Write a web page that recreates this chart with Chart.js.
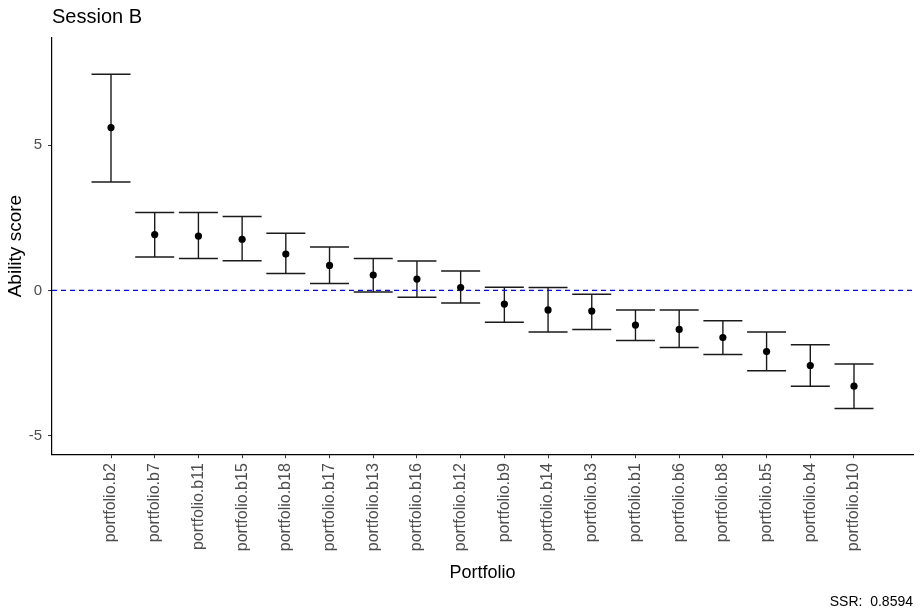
<!DOCTYPE html>
<html>
<head>
<meta charset="utf-8">
<script src="https://cdn.jsdelivr.net/npm/chart.js@4/dist/chart.umd.min.js"></script>
<style>
  html,body{margin:0;padding:0;background:#fff;}
  #wrap{width:922px;height:614px;}
</style>
</head>
<body>
<div id="wrap"><canvas id="c" width="922" height="614"></canvas></div>
<script>
// data
const portfolios = ['portfolio.b2','portfolio.b7','portfolio.b11','portfolio.b15','portfolio.b18','portfolio.b17','portfolio.b13','portfolio.b16','portfolio.b12','portfolio.b9','portfolio.b14','portfolio.b3','portfolio.b1','portfolio.b6','portfolio.b8','portfolio.b5','portfolio.b4','portfolio.b10'];
const ability = [5.60,1.92,1.87,1.76,1.25,0.86,0.53,0.39,0.10,-0.47,-0.67,-0.71,-1.19,-1.34,-1.62,-2.10,-2.58,-3.29];
const upperCI = [7.43,2.68,2.68,2.54,1.97,1.49,1.10,1.01,0.67,0.11,0.10,-0.13,-0.67,-0.67,-1.04,-1.43,-1.87,-2.53];
const lowerCI = [3.73,1.15,1.10,1.02,0.58,0.24,-0.05,-0.23,-0.43,-1.09,-1.43,-1.34,-1.72,-1.96,-2.20,-2.76,-3.29,-4.06];
const yTicks = [-5,0,5];
const refLine = 0;
const ssrText = 'SSR:  0.8594';

const X_MIN = 1-1.35, X_MAX = portfolios.length+1.35;
const FONT = "'Liberation Sans', Arial, sans-serif";

const pts = ability.map((v,i)=>({x:i+1,y:v}));
const caps = [];
const stems = [];
portfolios.forEach((p,i)=>{
  caps.push({x:i+1,y:upperCI[i]},{x:i+1,y:lowerCI[i]});
  stems.push({x:i+1,y:lowerCI[i]},{x:i+1,y:upperCI[i]},{x:i+1,y:null});
});

new Chart(document.getElementById('c'),{
  type:'scatter',
  data:{datasets:[
    {data:pts,order:0,pointRadius:3.6,pointBackgroundColor:'#000',pointBorderWidth:0,showLine:false},
    {data:[{x:X_MIN,y:refLine},{x:X_MAX,y:refLine}],order:1,showLine:true,pointRadius:0,borderColor:'#0000ff',borderWidth:1.3,borderDash:[5,4]},
    {data:caps,order:2,pointStyle:'line',pointRadius:19.5,pointBorderColor:'#1a1a1a',pointBorderWidth:1.5,showLine:false},
    {data:stems,order:3,showLine:true,spanGaps:false,pointRadius:0,borderColor:'#1a1a1a',borderWidth:1.4}
  ]},
  options:{
    responsive:false,animation:false,
    layout:{autoPadding:false,padding:{left:0,right:9,top:0,bottom:0}},
    plugins:{
      legend:{display:false},tooltip:{enabled:false},
      title:{display:true,text:'Session B',align:'start',fullSize:false,color:'#000',
        font:{family:FONT,size:20,weight:'normal',lineHeight:1.2},padding:{top:5,bottom:9}},
      subtitle:{display:true,text:ssrText,position:'bottom',align:'end',fullSize:false,color:'#000',
        font:{family:FONT,size:14,weight:'normal',lineHeight:1.2},padding:{top:0,bottom:3}}
    },
    scales:{
      x:{type:'linear',min:X_MIN,max:X_MAX,
        afterBuildTicks:s=>{s.ticks=portfolios.map((p,i)=>({value:i+1}));},
        afterFit:s=>{s.height=140;},
        ticks:{autoSkip:false,minRotation:90,maxRotation:90,padding:5,color:'#4d4d4d',
          font:{family:FONT,size:16},callback:v=>portfolios[v-1]},
        grid:{display:true,drawOnChartArea:false,drawTicks:true,tickLength:4,tickColor:'#333'},
        border:{display:true,color:'#000',width:1.2},
        title:{display:true,text:'Portfolio',color:'#000',font:{family:FONT,size:18},padding:{top:0,bottom:10}}
      },
      y:{min:-5.63,max:8.68,
        afterBuildTicks:s=>{s.ticks=yTicks.map(v=>({value:v}));},
        afterFit:s=>{s.width=52;},
        ticks:{padding:6,color:'#4d4d4d',font:{family:FONT,size:15}},
        grid:{display:true,drawOnChartArea:false,drawTicks:true,tickLength:4,tickColor:'#333'},
        border:{display:true,color:'#000',width:1.2},
        title:{display:true,text:'Ability score',color:'#000',font:{family:FONT,size:19},padding:{top:4,bottom:0}}
      }
    }
  }
});
</script>
</body>
</html>
